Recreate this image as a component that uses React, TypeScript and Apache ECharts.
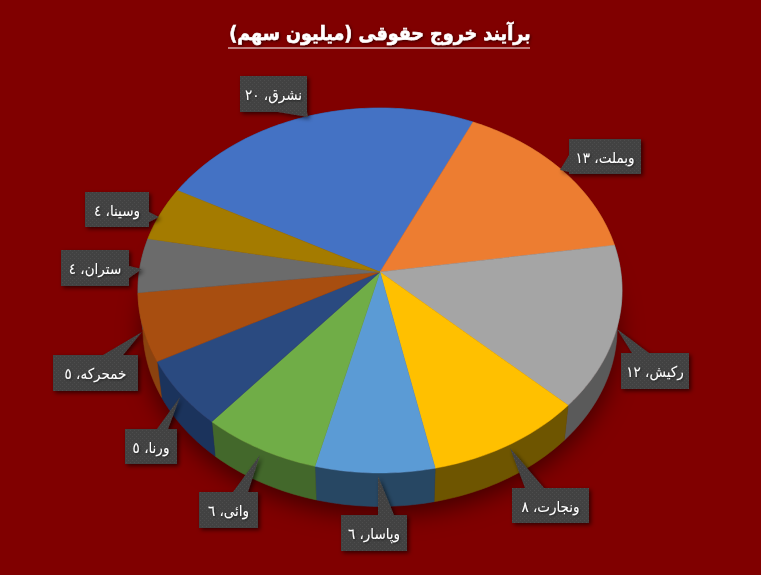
import React, { useEffect, useRef } from "react";
import * as echarts from "echarts";

const TITLE = "برآیند خروج حقوقی (میلیون سهم)";
const CATEGORIES = ["نشرق", "وبملت", "رکیش", "ونجارت", "وپاسار", "وائی", "ورنا", "خمحرکه", "ستران", "وسینا"];
const VALUES = [20, 13, 12, 8, 6, 6, 5, 5, 4, 4];
const VALUE_LABELS = ["٢٠", "١٣", "١٢", "٨", "٦", "٦", "٥", "٥", "٤", "٤"];
const TOP_COLORS = ["#4472C4", "#ED7D31", "#A5A5A5", "#FFC000", "#5B9BD5", "#70AD47", "#2A4A80", "#A84E10", "#6B6B6B", "#A47B00"];
const SIDE_COLORS = ["#2A4678", "#8E4B1E", "#5A5A5A", "#6E5500", "#274763", "#43682B", "#1B335C", "#8A420F", "#4A4A4A", "#6E5200"];

const START_ANGLE = -61.8;
const CX = 380, CY = 272, RX = 240.8, RY = 180.6, PERSP = 0.1014, DEPTH = 37.5, BOTTOM_SCALE = 0.98;

type Callout = { box: number[]; tip: number[]; side: "top" | "bottom" | "left" | "right"; base: number[] };
const CALLOUTS: Callout[] = [
  { box: [240, 76, 67, 36], tip: [308, 117], side: "bottom", base: [278, 307] },
  { box: [569, 139, 72, 35], tip: [560, 170], side: "left", base: [155, 172] },
  { box: [621, 353, 68, 36], tip: [617, 329], side: "top", base: [632, 649] },
  { box: [512, 488, 77, 35], tip: [510, 448], side: "top", base: [525, 544] },
  { box: [341, 515, 66, 36], tip: [378, 476], side: "top", base: [378, 394] },
  { box: [199, 492, 59, 36], tip: [260, 455], side: "top", base: [233, 248] },
  { box: [125, 429, 52, 35], tip: [180, 397], side: "top", base: [157, 168] },
  { box: [53, 355, 85, 36], tip: [142, 332], side: "top", base: [103, 123] },
  { box: [61, 250, 68, 36], tip: [142, 269], side: "right", base: [266, 278] },
  { box: [85, 192, 64, 35], tip: [159, 217], side: "right", base: [212, 222] },
];

const TOTAL = VALUES.reduce((a, b) => a + b, 0);
const BOUNDS = VALUES.reduce<number[]>((acc, v) => [...acc, acc[acc.length - 1] + (v / TOTAL) * 360], [START_ANGLE]);

function project(deg: number, bottom: boolean): number[] {
  const r = (deg * Math.PI) / 180;
  const u = Math.sin(r), v = Math.cos(r), w = 1 + PERSP * v;
  const x = (RX * u) / w, y = (-RY * v) / w;
  return bottom ? [CX + BOTTOM_SCALE * x, CY + DEPTH + BOTTOM_SCALE * y] : [CX + x, CY + y];
}
function arc(a0: number, a1: number, bottom: boolean): number[][] {
  const pts: number[][] = [];
  const n = Math.max(2, Math.ceil(a1 - a0));
  for (let i = 0; i <= n; i++) pts.push(project(a0 + ((a1 - a0) * i) / n, bottom));
  return pts;
}
function calloutShape(c: Callout): number[][] {
  const [x, y, w, h] = c.box;
  const [a, b] = c.base;
  const r = x + w, d = y + h;
  const top = c.side === "top" ? [[a, y], c.tip, [b, y]] : [];
  const right = c.side === "right" ? [[r, a], c.tip, [r, b]] : [];
  const bottom = c.side === "bottom" ? [[b, d], c.tip, [a, d]] : [];
  const left = c.side === "left" ? [[x, b], c.tip, [x, a]] : [];
  return [[x, y], ...top, [r, y], ...right, [r, d], ...bottom, [x, d], ...left];
}
function dotPattern(): any {
  const cv = document.createElement("canvas");
  cv.width = 4; cv.height = 4;
  const g = cv.getContext("2d")!;
  g.fillStyle = "#424242"; g.fillRect(0, 0, 4, 4);
  g.fillStyle = "#4E4E4E"; g.fillRect(0, 0, 1, 1); g.fillRect(2, 2, 1, 1);
  return { image: cv, repeat: "repeat" };
}

export default function App() {
  const ref = useRef<HTMLDivElement>(null);
  useEffect(() => {
    document.body.style.margin = "0";
    const chart = echarts.init(ref.current!, undefined, { renderer: "svg" });
    const data = VALUES.map((v) => [v]);
    const pattern = dotPattern();
    chart.setOption({
      animation: false,
      backgroundColor: "#800000",
      title: {
        text: TITLE,
        left: 375,
        top: 18,
        textAlign: "center",
        textStyle: {
          fontFamily: "'DejaVu Sans Condensed', 'DejaVu Sans'", fontWeight: "bold", fontSize: 19.5, color: "#fff",
          textBorderColor: "#fff", textBorderWidth: 0.5,
          textShadowColor: "rgba(0,0,0,0.6)", textShadowBlur: 3, textShadowOffsetX: 1, textShadowOffsetY: 1,
        },
      },
      graphic: [{ type: "line", shape: { x1: 228, y1: 48, x2: 530, y2: 48 }, style: { stroke: "#fff", lineWidth: 1.2 } }],
      series: [
        {
          type: "custom", coordinateSystem: "none", data: [[TOTAL]], silent: true, z: 0,
          renderItem: () => ({
            type: "polygon",
            shape: { points: arc(START_ANGLE, START_ANGLE + 360, true) },
            style: { fill: "#5a1010", shadowBlur: 24, shadowColor: "rgba(0,0,0,0.5)", shadowOffsetY: 8 },
          }),
        },
        {
          type: "custom", coordinateSystem: "none", data, silent: true, z: 1,
          renderItem: (p: any) => {
            const i = p.dataIndex;
            const a0 = BOUNDS[i], a1 = BOUNDS[i + 1];
            return {
              type: "polygon",
              shape: { points: [...arc(a0, a1, false), ...arc(a0, a1, true).reverse()] },
              style: { fill: SIDE_COLORS[i], stroke: SIDE_COLORS[i], lineWidth: 0.5 },
            };
          },
        },
        {
          type: "custom", coordinateSystem: "none", data, silent: true, z: 2,
          renderItem: (p: any) => {
            const i = p.dataIndex;
            return {
              type: "polygon",
              shape: { points: [[CX, CY], ...arc(BOUNDS[i], BOUNDS[i + 1], false)] },
              style: { fill: TOP_COLORS[i], stroke: TOP_COLORS[i], lineWidth: 0.5 },
            };
          },
        },
        {
          type: "custom", coordinateSystem: "none", data, silent: true, z: 3,
          renderItem: (p: any) => {
            const i = p.dataIndex;
            const c = CALLOUTS[i];
            return {
              type: "group",
              children: [
                {
                  type: "polygon",
                  shape: { points: calloutShape(c) },
                  style: { fill: pattern, shadowBlur: 4, shadowColor: "rgba(0,0,0,0.6)", shadowOffsetX: 2, shadowOffsetY: 2 },
                },
                {
                  type: "text",
                  style: {
                    text: `${CATEGORIES[i]}، ${VALUE_LABELS[i]}`,
                    x: c.box[0] + c.box[2] / 2, y: c.box[1] + c.box[3] / 2 + 1,
                    align: "center", verticalAlign: "middle",
                    fill: "#fff", font: "15px 'DejaVu Sans Condensed', 'DejaVu Sans'",
                    textShadowColor: "rgba(0,0,0,0.5)", textShadowBlur: 2, textShadowOffsetX: 1, textShadowOffsetY: 1,
                  },
                },
              ],
            };
          },
        },
      ],
    });
    return () => chart.dispose();
  }, []);
  return <div ref={ref} dir="rtl" style={{ width: 761, height: 575 }} />;
}
